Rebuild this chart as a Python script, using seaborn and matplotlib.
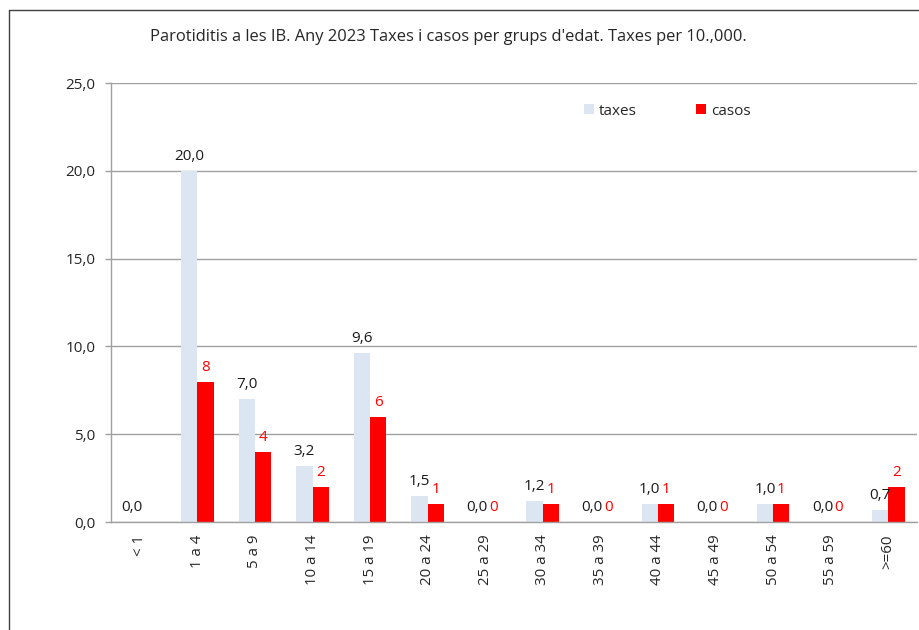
import numpy as np
import pandas as pd
import matplotlib
matplotlib.use("Agg")
import matplotlib.pyplot as plt
from matplotlib.lines import Line2D
import seaborn as sns

grups = ["< 1", "1 a 4", "5 a 9", "10 a 14", "15 a 19", "20 a 24", "25 a 29",
         "30 a 34", "35 a 39", "40 a 44", "45 a 49", "50 a 54", "55 a 59", ">=60"]
taxes = [0.0, 20.0, 7.0, 3.2, 9.6, 1.5, 0.0, 1.2, 0.0, 1.0, 0.0, 1.0, 0.0, 0.7]
casos = [np.nan, 8, 4, 2, 6, 1, 0, 1, 0, 1, 0, 1, 0, 2]
y_ticks = [0, 5, 10, 15, 20, 25]
title = "Parotiditis a les IB. Any 2023 Taxes i casos per grups d'edat. Taxes per 10.,000."

sns.set_style("white")
plt.rcParams["font.family"] = ["Open Sans", "DejaVu Sans"]

df = pd.DataFrame({
    "grup": grups * 2,
    "valor": taxes + casos,
    "serie": ["taxes"] * len(grups) + ["casos"] * len(grups),
})

fig = plt.figure(figsize=(9.2, 6.3), dpi=100)
ax = fig.add_axes([111 / 920, 1 - 522 / 630, 806 / 920, 439 / 630])

sns.barplot(data=df, x="grup", y="valor", hue="serie", order=grups,
            hue_order=["taxes", "casos"], palette=["#DCE6F2", "#FF0000"],
            width=0.57, saturation=1, linewidth=0, errorbar=None, ax=ax)

ax.set_ylim(0, 25)
ax.set_xlim(-0.5, len(grups) - 0.5)
ax.set_yticks(y_ticks)
ax.set_yticklabels([f"{v:.1f}".replace(".", ",") for v in y_ticks], fontsize=11)
ax.set_xlabel("")
ax.set_ylabel("")
ax.set_xticks(range(len(grups)))
ax.set_xticklabels(grups, rotation=90, fontsize=10.8, va="top", ha="center")
ax.set_xticks(np.arange(-0.5, len(grups), 1), minor=True)
ax.tick_params(axis="x", which="major", length=0, pad=9)
ax.tick_params(axis="x", which="minor", length=5, color="#A0A0A0", width=1)
ax.tick_params(axis="y", length=4, color="#A0A0A0", width=1, pad=7, left=True)

ax.yaxis.grid(True, color="#A0A0A0", linewidth=1)
ax.set_axisbelow(True)
for s in ["top", "right"]:
    ax.spines[s].set_visible(False)
for s in ["left", "bottom"]:
    ax.spines[s].set_color("#A0A0A0")
    ax.spines[s].set_linewidth(1)

conts = ax.containers
ax.bar_label(conts[0], fmt=lambda v: f"{v:.1f}".replace(".", ","), padding=5,
             fontsize=11, color="#1a1a1a")
ax.bar_label(conts[1], fmt=lambda v: f"{v:.0f}", padding=5,
             fontsize=11, color="#FF0000")

handles, labels = ax.get_legend_handles_labels()
ax.legend(handles, labels, loc="center left", bbox_to_anchor=(0.57, 0.936),
          ncol=2, frameon=False, handlelength=0.65, handleheight=0.65,
          handletextpad=0.3, columnspacing=3.9, fontsize=11)

fig.text(448 / 920, 1 - 37 / 630, title, ha="center", va="center", fontsize=11.9)

fig.add_artist(Line2D([8.5 / 920, 8.5 / 920], [0, 1 - 10 / 630],
                      transform=fig.transFigure, color="#404040", linewidth=1))
fig.add_artist(Line2D([8.5 / 920, 1.01], [1 - 10 / 630, 1 - 10 / 630],
                      transform=fig.transFigure, color="#404040", linewidth=1))

fig.savefig("out.png", dpi=100)
